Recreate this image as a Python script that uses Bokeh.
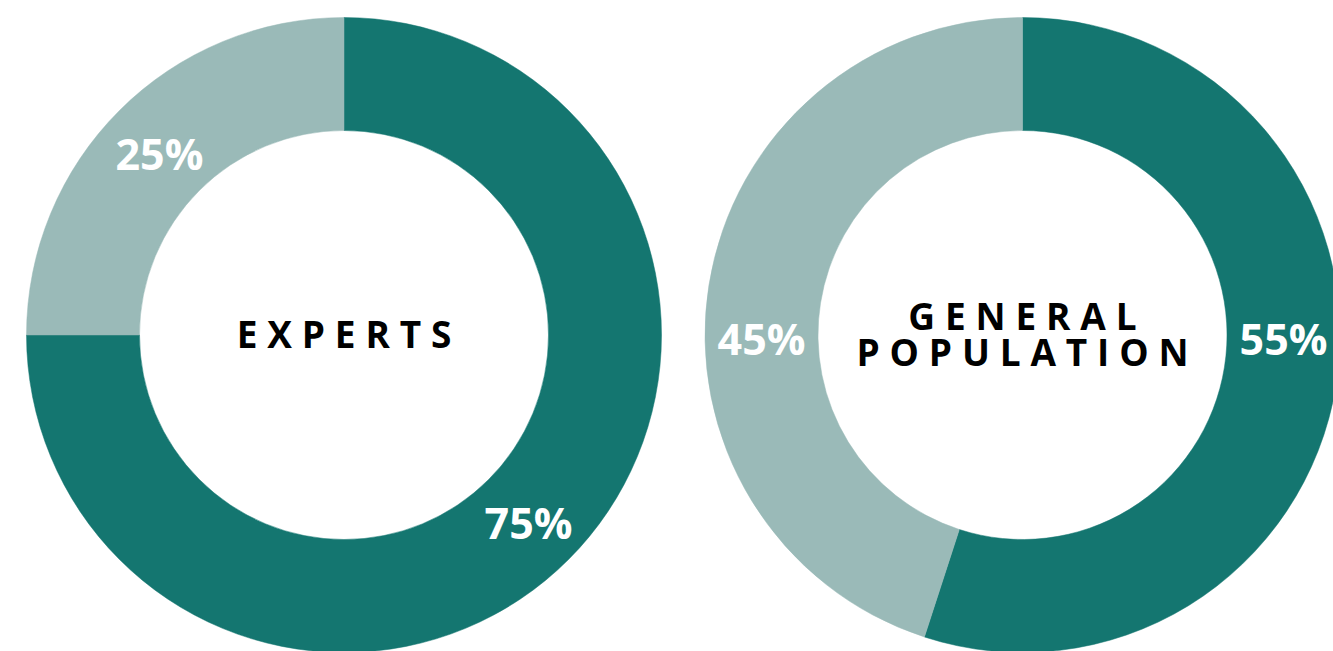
import math
from bokeh.plotting import figure
from bokeh.models import Range1d, ColumnDataSource
from bokeh.core.properties import value
from bokeh.embed import file_html
from bokeh.resources import INLINE

# ---- data ----
groups = ["EXPERTS", "GENERAL POPULATION"]
center_lines = [["EXPERTS"], ["GENERAL", "POPULATION"]]
segments = ["Dark", "Light"]
experts_values = [75, 25]
general_values = [55, 45]
pct_labels_experts = ["75%", "25%"]
pct_labels_general = ["55%", "45%"]

# ---- layout / style ----
W, H = 1333, 651
DARK = "#147670"
LIGHT = "#9abab8"
OUTER_R = 317.5
INNER_R = 204.5
centers = [(343.5, H - 334.5), (1022.0, H - 334.5)]
# label angles (degrees, math convention) per chart; None -> segment midpoint
label_angles = [[None, None], [0.0, 180.0]]
FONT = "Open Sans"
GAP = "\u2009\u200a"

p = figure(width=W, height=H, output_backend="svg", toolbar_location=None,
           x_range=Range1d(0, W), y_range=Range1d(0, H),
           min_border=0, outline_line_color=None)
p.axis.visible = False
p.grid.visible = False
p.background_fill_color = "white"
p.border_fill_color = "white"

all_values = [experts_values, general_values]
all_labels = [pct_labels_experts, pct_labels_general]
colors = [DARK, LIGHT]

for ci, (vals, labs) in enumerate(zip(all_values, all_labels)):
    cx, cy = centers[ci]
    total = float(sum(vals))
    starts, ends = [], []
    ang = 90.0
    for v in vals:
        a1 = ang
        a2 = ang - 360.0 * v / total
        starts.append(math.radians(a1))
        ends.append(math.radians(a2))
        ang = a2
    src = ColumnDataSource(dict(x=[cx] * len(vals), y=[cy] * len(vals),
                                start=starts, end=ends, color=colors[:len(vals)]))
    p.annular_wedge(x="x", y="y", inner_radius=INNER_R, outer_radius=OUTER_R,
                    start_angle="end", end_angle="start", direction="anticlock",
                    color="color", line_color="color", line_width=0.5, source=src)
    # percent labels
    lx, ly = [], []
    rmid = (INNER_R + OUTER_R) / 2.0
    for si in range(len(vals)):
        la = label_angles[ci][si]
        if la is None:
            la = math.degrees((starts[si] + ends[si]) / 2.0)
        lx.append(cx + rmid * math.cos(math.radians(la)))
        ly.append(cy + rmid * math.sin(math.radians(la)) - 3)
    p.text(x=lx, y=ly, text=labs, text_color="white", text_font=value(FONT),
           text_font_style="bold", text_font_size="43px",
           text_align="center", text_baseline="middle")
    # center text
    lines = center_lines[ci]
    n = len(lines)
    spacing = 36.0
    ys = [cy + 1.5 + spacing * ((n - 1) / 2.0 - k) for k in range(n)]
    p.text(x=[cx] * n, y=ys, text=[GAP.join(list(t)) for t in lines],
           text_color="black", text_font=value(FONT), text_font_style="bold",
           text_font_size="37px", text_align="center", text_baseline="middle")

open("out.html", "w").write(file_html(p, INLINE))
